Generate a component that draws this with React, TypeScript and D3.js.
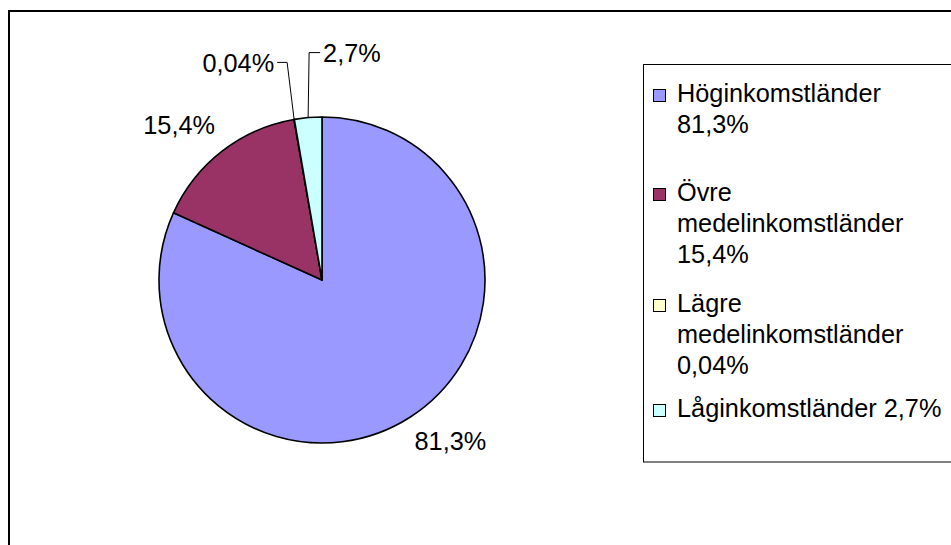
import React, { useEffect, useRef } from 'react';
import * as d3 from 'd3';

// Income groups and their share (percent)
const categories = ['Höginkomstländer', 'Övre medelinkomstländer', 'Lägre medelinkomstländer', 'Låginkomstländer'];
const shares = [81.3, 15.4, 0.04, 2.7];
const shareLabels = ['81,3%', '15,4%', '0,04%', '2,7%'];
const colors = ['#9999FF', '#993366', '#FFFFCC', '#CCFFFF'];

// label placement relative to the outer midpoint of each slice (labels were dragged by hand)
const labelLayout = [
  { dx: 40, dy: 24, anchor: 'middle', leader: false },
  { dx: -43, dy: -26, anchor: 'middle', leader: false },
  { dx: -7, dy: -57, anchor: 'end', leader: true },
  { dx: 1, dy: -65, anchor: 'start', leader: true },
];

// first baseline of each legend entry
const legendRowY = [102, 201, 312, 417];

const W = 951;
const H = 545;
const FONT = '"Liberation Sans", Arial, sans-serif';

const PieChart: React.FC = () => {
  const svgRef = useRef<SVGSVGElement>(null);

  useEffect(() => {
    if (!svgRef.current) return;
    const svg = d3.select(svgRef.current);
    svg.selectAll('*').remove();

    const cx = 322;
    const cy = 280;
    const r = 163;
    const fontSize = 25.3;

    svg.append('rect').attr('width', W).attr('height', H).attr('fill', '#fff');

    // outer chart frame
    svg.append('rect')
      .attr('x', 9).attr('y', 11)
      .attr('width', W + 20).attr('height', H + 20)
      .attr('fill', 'none')
      .attr('stroke', '#000')
      .attr('stroke-width', 2);

    const data = categories.map((c, i) => ({ name: c, value: shares[i], label: shareLabels[i], color: colors[i], i }));
    type D = typeof data[number];

    const pie = d3.pie<D>().value(d => d.value).sort(null);
    const arc = d3.arc<d3.PieArcDatum<D>>().innerRadius(0).outerRadius(r);
    const arcs = pie(data);

    const g = svg.append('g').attr('transform', `translate(${cx},${cy})`);
    g.selectAll('path.slice')
      .data(arcs)
      .enter()
      .append('path')
      .attr('class', 'slice')
      .attr('d', arc)
      .attr('fill', d => d.data.color)
      .attr('stroke', '#000')
      .attr('stroke-width', 1.6)
      .attr('stroke-linejoin', 'round');

    // data labels
    arcs.forEach((a, i) => {
      const mid = (a.startAngle + a.endAngle) / 2;
      const px = r * Math.sin(mid);
      const py = -r * Math.cos(mid);
      const lay = labelLayout[i];
      const bx = px + lay.dx;
      const by = py + lay.dy;
      let tx = bx;
      if (lay.leader) {
        const ex = lay.anchor === 'end' ? bx - 10 : bx + 11;
        g.append('path')
          .attr('d', d3.line()([[px, py], [bx, by], [ex, by]]))
          .attr('fill', 'none')
          .attr('stroke', '#000')
          .attr('stroke-width', 1);
        tx = lay.anchor === 'end' ? ex - 3 : ex + 3;
      }
      g.append('text')
        .attr('x', tx)
        .attr('y', by)
        .attr('dy', '0.36em')
        .attr('text-anchor', lay.anchor)
        .attr('font-family', FONT)
        .attr('font-size', fontSize)
        .attr('fill', '#000')
        .text(a.data.label);
    });

    // legend
    const lx = 643.5;
    const ly = 64.5;
    svg.append('rect')
      .attr('x', lx).attr('y', ly)
      .attr('width', W).attr('height', 462 - ly)
      .attr('fill', '#fff')
      .attr('stroke', '#000')
      .attr('stroke-width', 1);

    const textX = 677;
    const maxW = 272;
    const lineH = 31;

    data.forEach((d, i) => {
      const y0 = legendRowY[i];
      svg.append('rect')
        .attr('x', 653.5).attr('y', y0 - 12.5)
        .attr('width', 12).attr('height', 12)
        .attr('fill', d.color)
        .attr('stroke', '#000')
        .attr('stroke-width', 1);

      // greedy word wrap using real text widths
      const t = svg.append('text')
        .attr('font-family', FONT)
        .attr('font-size', fontSize)
        .attr('fill', '#000');
      const words = `${d.name} ${d.label}`.split(' ');
      let line: string[] = [];
      let n = 0;
      let ts = t.append('tspan').attr('x', textX).attr('y', y0);
      words.forEach(w => {
        line.push(w);
        ts.text(line.join(' '));
        if ((ts.node() as SVGTSpanElement).getComputedTextLength() > maxW && line.length > 1) {
          line.pop();
          ts.text(line.join(' '));
          line = [w];
          n += 1;
          ts = t.append('tspan').attr('x', textX).attr('y', y0 + n * lineH).text(w);
        }
      });
    });
  }, []);

  return <svg ref={svgRef} width={W} height={H} viewBox={`0 0 ${W} ${H}`} style={{ position: 'absolute', left: 0, top: 0, display: 'block' }} />;
};

export default function App() {
  return <PieChart />;
}
